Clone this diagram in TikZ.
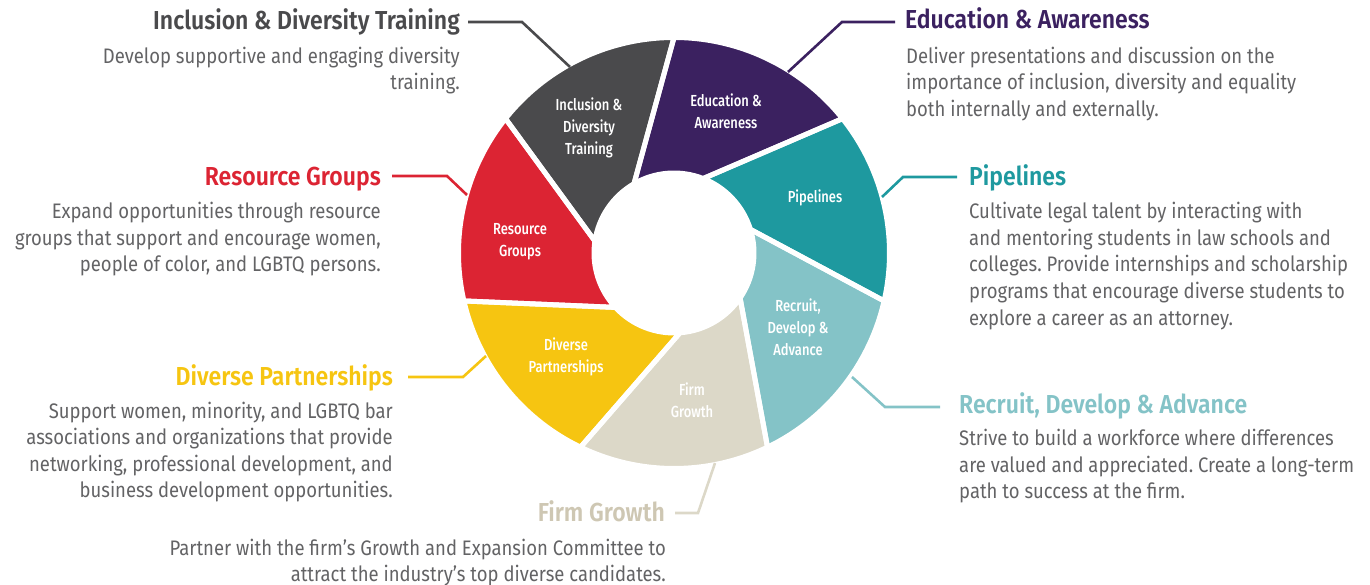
\documentclass[tikz,border=0pt]{standalone}
\usepackage{fontspec}
\newfontfamily\descfont{Fira Sans}[FakeStretch=0.88]
\newfontfamily\headfont{Fira Sans SemiBold}[FakeStretch=0.885]
\newfontfamily\segfont{Fira Sans Medium}[FakeStretch=0.81]
\usetikzlibrary{calc}
\frenchspacing

\definecolor{cIncl}{HTML}{4A4A4C}
\definecolor{cEdu}{HTML}{3B2160}
\definecolor{cPipe}{HTML}{1E999F}
\definecolor{cRec}{HTML}{84C3C7}
\definecolor{cFirm}{HTML}{DCD8C8}
\definecolor{cFirmTxt}{HTML}{CEC7B3}
\definecolor{cDiv}{HTML}{F6C511}
\definecolor{cRes}{HTML}{DC2433}
\definecolor{cDesc}{HTML}{636365}

% one node per description line, baselines 26.5pt apart
\newcommand\desclines[5]{%
  \foreach \dl [count=\k] in {#5}{%
    \node[desc, anchor=#2] (#1-\k) at ({#3},{#4-26.5*(\k-1)}) {\dl};
  }}

\begin{document}
\begin{tikzpicture}[x=1pt,y=1pt,
  seglabel/.style={text=white, font=\segfont\fontsize{16}{22}\selectfont, align=center, inner sep=0pt},
  head/.style={font=\headfont\fontsize{26}{30}\selectfont, inner sep=0pt},
  desc/.style={font=\descfont\fontsize{21}{26.5}\selectfont, text=cDesc, inner sep=0pt},
  lead/.style={line width=2.6pt, line join=miter, line cap=butt}]
\useasboundingbox (0,0) rectangle (1370,-585);

% ---- pinwheel ring: seven slices with skewed white gaps
\begin{scope}[shift={(674,-253)}]
  \foreach \i/\col in {0/cEdu,1/cPipe,2/cRec,3/cFirm,4/cDiv,5/cRes,6/cIncl}{
    \pgfmathsetmacro\a{120-51.4286*\i}
    \pgfmathsetmacro\b{\a-51.4286}
    \pgfmathsetmacro\ao{\a-30}
    \pgfmathsetmacro\bo{\b-30}
    \fill[\col] (\a:80) -- (\ao:215.5) arc[start angle=\ao, end angle=\bo, radius=215.5]
      -- (\b:80) arc[start angle=\b, end angle=\a, radius=80] -- cycle;
  }
  \foreach \i in {0,...,6}{
    \pgfmathsetmacro\a{120-51.4286*\i}
    \pgfmathsetmacro\b{\a-51.4286}
    \pgfmathsetmacro\ao{\a-30}
    \pgfmathsetmacro\bo{\b-30}
    \draw[white, line width=5pt, line join=round] (\a:80) -- (\ao:215.5) arc[start angle=\ao, end angle=\bo, radius=215.5]
      -- (\b:80) arc[start angle=\b, end angle=\a, radius=80] -- cycle;
  }
\end{scope}

% ---- slice labels
\node[seglabel] (s-incl) at (589,-128) {Inclusion \&\\Diversity\\Training};
\node[seglabel] (s-edu)  at (726,-111) {Education \&\\Awareness};
\node[seglabel] (s-pipe) at (815,-198) {Pipelines};
\node[seglabel] (s-rec)  at (798,-327) {Recruit,\\Develop \&\\Advance};
\node[seglabel] (s-firm) at (692,-400) {Firm\\Growth};
\node[seglabel] (s-div)  at (566,-357) {Diverse\\Partnerships};
\node[seglabel] (s-res)  at (520,-242) {Resource\\Groups};

% ---- headings
\node[head, text=cIncl, anchor=base east] (t-incl) at (460,-30) {Inclusion \& Diversity Training};
\node[head, text=cEdu,  anchor=base west] (t-edu)  at (905,-29) {Education \& Awareness};
\node[head, text=cRes,  anchor=base east] (t-res)  at (381,-186) {Resource Groups};
\node[head, text=cPipe, anchor=base west] (t-pipe) at (969,-186) {Pipelines};
\node[head, text=cDiv,  anchor=base east] (t-div)  at (393,-385) {Diverse Partnerships};
\node[head, text=cRec,  anchor=base west] (t-rec)  at (959,-413) {Recruit, Develop \& Advance};
\node[head, text=cFirmTxt, anchor=base east] (t-firm) at (665,-521) {Firm Growth};

% ---- descriptions
\desclines{d-incl}{base east}{460}{-63.5}{{Develop supportive and engaging diversity},{training.}}
\desclines{d-edu}{base west}{906}{-63.5}{{Deliver presentations and discussion on the},{importance of inclusion, diversity and equality},{both internally and externally.}}
\desclines{d-res}{base east}{381}{-219}{{Expand opportunities through resource},{groups that support and encourage women,},{people of color, and LGBTQ persons.}}
\desclines{d-pipe}{base west}{969}{-219}{{Cultivate legal talent by interacting with},{and mentoring students in law schools and},{colleges. Provide internships and scholarship},{programs that encourage diverse students to},{explore a career as an attorney.}}
\desclines{d-div}{base east}{393}{-418}{{Support women, minority, and LGBTQ bar},{associations and organizations that provide},{networking, professional development, and},{business development opportunities.}}
\desclines{d-rec}{base west}{959}{-445.5}{{Strive to build a workforce where differences},{are valued and appreciated. Create a long-term},{path to success at the firm.}}
\desclines{d-firm}{base east}{666}{-555}{{Partner with the firm’s Growth and Expansion Committee to},{attract the industry’s top diverse candidates.}}

% ---- leader lines from headings to the ring
\coordinate (incl-a) at (468,-22); \coordinate (incl-k) at (522,-22); \coordinate (incl-e) at (570,-67);
\coordinate (edu-a)  at (895,-22); \coordinate (edu-k)  at (842,-22); \coordinate (edu-e)  at (788,-72);
\coordinate (pipe-a) at (957,-177); \coordinate (pipe-k) at (903,-177); \coordinate (pipe-e) at (882,-197);
\coordinate (rec-a)  at (940,-407); \coordinate (rec-k)  at (885,-407); \coordinate (rec-e)  at (852,-377);
\coordinate (firm-a) at (675,-513); \coordinate (firm-k) at (698,-513); \coordinate (firm-e) at (715,-463);
\coordinate (div-a)  at (408,-377); \coordinate (div-k)  at (463,-377); \coordinate (div-e)  at (486,-356);
\coordinate (res-a)  at (392,-176); \coordinate (res-k)  at (447,-176); \coordinate (res-e)  at (467,-195);

\draw[lead, cIncl] (incl-a) -- (incl-k) -- (incl-e);
\draw[lead, cEdu]  (edu-a)  -- (edu-k)  -- (edu-e);
\draw[lead, cPipe] (pipe-a) -- (pipe-k) -- (pipe-e);
\draw[lead, cRec]  (rec-a)  -- (rec-k)  -- (rec-e);
\draw[lead, cFirm] (firm-a) -- (firm-k) -- (firm-e);
\draw[lead, cDiv]  (div-a)  -- (div-k)  -- (div-e);
\draw[lead, cRes]  (res-a)  -- (res-k)  -- (res-e);
\end{tikzpicture}
\end{document}
